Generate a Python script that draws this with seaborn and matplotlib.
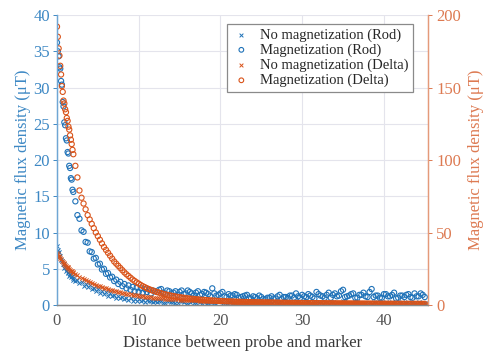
import numpy as np
import pandas as pd
import seaborn as sns
import matplotlib
import matplotlib.pyplot as plt

matplotlib.use('Agg')

# distance between probe and marker (three sampling ranges)
distance = [0.0, 0.1, 0.2, 0.3, 0.4, 0.5, 0.6, 0.7, 0.8, 0.9, 1.0,
            1.1, 1.2, 1.3, 1.4, 1.5, 1.6, 1.7, 1.8, 1.9, 2.0,
            2.25, 2.5, 2.75, 3.0, 3.25, 3.5, 3.75, 4.0, 4.25, 4.5, 4.75, 5.0,
            5.25, 5.5, 5.75, 6.0, 6.25, 6.5, 6.75, 7.0, 7.25, 7.5, 7.75, 8.0,
            8.25, 8.5, 8.75, 9.0, 9.25, 9.5, 9.75, 10.0, 10.25, 10.5, 10.75, 11.0,
            11.25, 11.5, 11.75, 12.0,
            12.5, 13.0, 13.5, 14.0, 14.5, 15.0, 15.5, 16.0, 16.5, 17.0, 17.5,
            18.0, 18.5, 19.0, 19.5, 20.0, 20.5, 21.0, 21.5, 22.0, 22.5, 23.0,
            23.5, 24.0, 24.5, 25.0, 25.5, 26.0, 26.5, 27.0, 27.5, 28.0, 28.5,
            29.0, 29.5, 30.0, 30.5, 31.0, 31.5, 32.0, 32.5, 33.0, 33.5, 34.0,
            34.5, 35.0, 35.5, 36.0, 36.5, 37.0, 37.5, 38.0, 38.5, 39.0, 39.5,
            40.0, 40.5, 41.0, 41.5, 42.0, 42.5, 43.0, 43.5, 44.0, 44.5, 45.0]

# Rod, left axis (uT)
rod_nomag = [8.2, 7.6, 7.3, 6.8, 6.7, 6.2, 6.1, 5.6, 5.6, 5.1, 5.2,
             4.7, 4.9, 4.4, 4.5, 4.0, 4.3, 3.8, 4.0, 3.5, 3.7,
             3.3, 3.5, 3.0, 3.2, 2.6, 2.9, 2.5, 2.7, 2.2, 2.4, 1.9, 2.2,
             1.7, 2.0, 1.5, 1.8, 1.3, 1.6, 1.2, 1.4, 1.0, 1.3, 0.9, 1.1,
             0.8, 1.0, 0.7, 0.9, 0.6, 0.8, 0.5, 0.8, 0.6, 0.7, 0.4, 0.7,
             0.5, 0.6, 0.4, 0.6,
             0.5, 0.3, 0.6, 0.4, 0.3, 0.5, 0.4, 0.2, 0.5, 0.3, 0.4,
             0.6, 0.3, 0.4, 0.2, 0.5, 0.3, 0.4, 0.3, 0.2, 0.4, 0.3,
             0.5, 0.2, 0.3, 0.4, 0.2, 0.3, 0.5, 0.3, 0.2, 0.4, 0.3,
             0.2, 0.4, 0.3, 0.5, 0.2, 0.3, 0.4, 0.2, 0.3, 0.4, 0.2,
             0.3, 0.5, 0.2, 0.3, 0.4, 0.2, 0.3, 0.3, 0.2, 0.4, 0.3,
             0.2, 0.3, 0.4, 0.2, 0.3, 0.2, 0.4, 0.3, 0.2, 0.3, 0.3]
rod_mag = [36.2, 35.0, 34.3, 32.8, 32.6, 30.9, 30.4, 28.0, 27.4, 25.2, 24.8,
           23.0, 22.7, 21.1, 20.9, 19.2, 18.9, 17.5, 17.3, 15.9, 15.6,
           14.3, 12.4, 11.9, 10.3, 10.1, 8.7, 8.6, 7.4, 7.3, 6.4, 6.5, 5.6,
           5.7, 4.9, 5.0, 4.3, 4.4, 3.8, 3.9, 3.3, 3.5, 2.9, 3.2, 2.6,
           2.9, 2.3, 2.7, 2.1, 2.5, 1.9, 2.4, 1.8, 2.3, 1.7, 2.2, 1.8,
           2.1, 1.6, 2.0, 1.9,
           2.1, 1.7, 2.0, 1.6, 1.9, 1.8, 1.5, 2.0, 1.6, 1.7, 1.4,
           1.8, 1.5, 2.3, 1.3, 1.6, 1.2, 1.5, 1.3, 1.4, 1.1, 1.3,
           1.0, 1.2, 0.9, 1.1, 0.8, 1.0, 0.9, 1.2, 0.8, 1.1, 1.3,
           1.0, 1.2, 1.4, 1.1, 1.3, 0.9, 1.5, 1.2, 1.4, 1.0, 1.6,
           1.3, 2.1, 1.2, 1.5, 1.0, 1.4, 1.7, 1.1, 2.2, 1.3, 1.0,
           1.5, 1.2, 1.4, 0.9, 1.3, 1.1, 1.5, 1.0, 1.2, 1.6, 1.1]

# Delta, right axis (uT)
delta_nomag = [36.0, 35.0, 34.1, 33.2, 32.3, 31.5, 30.7, 29.9, 29.2, 28.5, 27.8,
               27.1, 26.5, 25.9, 25.3, 24.7, 24.2, 23.7, 23.2, 22.7, 22.2,
               21.4, 20.5, 19.6, 18.7, 17.9, 17.1, 16.3, 15.6, 15.0, 14.4, 13.8, 13.3,
               12.8, 12.3, 11.8, 11.4, 11.0, 10.6, 10.2, 9.8, 9.45, 9.1, 8.8, 8.5,
               8.2, 7.9, 7.6, 7.35, 7.1, 6.85, 6.6, 6.4, 6.2, 6.0, 5.8, 5.6,
               5.45, 5.3, 5.15, 5.0,
               4.75, 4.5, 4.3, 4.1, 3.9, 3.75, 3.6, 3.45, 3.3, 3.2, 3.1,
               3.0, 2.9, 2.8, 2.7, 2.6, 2.55, 2.5, 2.4, 2.35, 2.3, 2.2,
               2.15, 2.1, 2.05, 2.0, 1.95, 1.9, 1.85, 1.8, 1.75, 1.7, 1.65,
               1.6, 1.55, 1.5, 1.48, 1.45, 1.42, 1.4, 1.37, 1.35, 1.32, 1.3,
               1.28, 1.25, 1.23, 1.2, 1.18, 1.15, 1.13, 1.1, 1.08, 1.05, 1.03,
               1.0, 0.98, 0.96, 0.94, 0.92, 0.9, 0.88, 0.86, 0.84, 0.82, 0.8]
delta_mag = [192, 185, 177, 172, 165, 159, 151, 147, 141, 139, 135,
             133, 129, 127, 123, 121, 117, 114, 111, 107, 104,
             96, 88, 79, 74, 70, 66, 62, 59, 56, 53, 50, 47.5,
             45, 42.5, 40, 38, 36, 34, 32, 30, 28.5, 27, 25.5, 24,
             22.5, 21.2, 20, 18.8, 17.6, 16.6, 15.6, 14.7, 13.8, 13.0, 12.3, 11.6,
             11.0, 10.4, 9.9, 9.4,
             8.5, 7.7, 7.0, 6.4, 5.9, 5.4, 5.0, 4.6, 4.3, 4.0, 3.7,
             3.5, 3.3, 3.1, 2.9, 2.75, 2.6, 2.5, 2.4, 2.3, 2.2, 2.1,
             2.0, 1.95, 1.9, 1.85, 1.8, 1.75, 1.7, 1.65, 1.6, 1.55, 1.5,
             1.45, 1.4, 1.38, 1.35, 1.33, 1.3, 1.28, 1.25, 1.23, 1.2, 1.18,
             1.15, 1.13, 1.1, 1.08, 1.06, 1.04, 1.02, 1.0, 0.98, 0.96, 0.94,
             0.92, 0.9, 0.89, 0.88, 0.87, 0.86, 0.85, 0.84, 0.83, 0.82, 0.81]

# extra readings taken between the far-range positions
distance_far = [12.25, 12.75, 13.25, 13.75, 14.25, 14.75, 15.25, 15.75, 16.25, 16.75,
                17.25, 17.75, 18.25, 18.75, 19.25, 19.75, 20.25, 20.75, 21.25, 21.75,
                22.25, 22.75, 23.25, 23.75, 24.25, 24.75, 25.25, 25.75, 26.25, 26.75,
                27.25, 27.75, 28.25, 28.75, 29.25, 29.75, 30.25, 30.75, 31.25, 31.75,
                32.25, 32.75, 33.25, 33.75, 34.25, 34.75, 35.25, 35.75, 36.25, 36.75,
                37.25, 37.75, 38.25, 38.75, 39.25, 39.75, 40.25, 40.75, 41.25, 41.75,
                42.25, 42.75, 43.25, 43.75, 44.25, 44.75]
rod_nomag_far = [0.4, 0.6, 0.3, 0.5, 0.4, 0.3, 0.5, 0.2, 0.4, 0.3,
                 0.5, 0.3, 0.2, 0.4, 0.3, 0.5, 0.2, 0.3, 0.4, 0.3,
                 0.2, 0.4, 0.3, 0.2, 0.5, 0.3, 0.4, 0.2, 0.3, 0.4,
                 0.3, 0.2, 0.4, 0.3, 0.5, 0.2, 0.3, 0.4, 0.2, 0.3,
                 0.4, 0.3, 0.2, 0.4, 0.3, 0.2, 0.5, 0.3, 0.2, 0.4,
                 0.3, 0.2, 0.3, 0.4, 0.2, 0.3, 0.4, 0.2, 0.3, 0.2,
                 0.4, 0.3, 0.2, 0.3, 0.4, 0.2]
rod_mag_far = [1.8, 2.2, 1.5, 1.9, 1.7, 1.4, 2.0, 1.6, 1.8, 1.3,
               1.9, 1.5, 1.7, 1.2, 1.6, 1.4, 1.8, 1.1, 1.3, 1.5,
               1.0, 1.2, 1.4, 0.9, 1.1, 1.3, 0.8, 1.0, 1.2, 0.9,
               1.4, 1.1, 1.0, 1.3, 1.6, 1.0, 1.2, 1.5, 1.1, 1.8,
               1.3, 1.0, 1.7, 1.4, 1.2, 1.9, 1.1, 1.3, 1.6, 1.0,
               1.4, 1.2, 1.8, 1.1, 1.3, 1.0, 1.5, 1.2, 1.7, 1.0,
               1.3, 1.4, 1.1, 1.6, 1.2, 1.4]
delta_nomag_far = [4.88, 4.62, 4.4, 4.2, 4.0, 3.82, 3.68, 3.52, 3.38, 3.25,
                   3.15, 3.05, 2.95, 2.85, 2.75, 2.65, 2.58, 2.52, 2.45, 2.38,
                   2.32, 2.25, 2.18, 2.12, 2.08, 2.02, 1.98, 1.92, 1.88, 1.82,
                   1.78, 1.72, 1.68, 1.62, 1.58, 1.52, 1.49, 1.46, 1.44, 1.41,
                   1.38, 1.36, 1.34, 1.31, 1.29, 1.26, 1.24, 1.22, 1.19, 1.16,
                   1.14, 1.12, 1.09, 1.06, 1.04, 1.02, 0.99, 0.97, 0.95, 0.93,
                   0.91, 0.89, 0.87, 0.85, 0.83, 0.81]
delta_mag_far = [8.9, 8.1, 7.3, 6.7, 6.1, 5.6, 5.2, 4.8, 4.45, 4.15,
                 3.85, 3.6, 3.4, 3.2, 3.0, 2.82, 2.68, 2.55, 2.45, 2.35,
                 2.25, 2.15, 2.05, 1.98, 1.92, 1.88, 1.82, 1.78, 1.72, 1.68,
                 1.62, 1.58, 1.52, 1.48, 1.42, 1.39, 1.36, 1.34, 1.31, 1.29,
                 1.26, 1.24, 1.21, 1.19, 1.16, 1.14, 1.12, 1.09, 1.07, 1.05,
                 1.03, 1.01, 0.99, 0.97, 0.95, 0.93, 0.91, 0.895, 0.885, 0.875,
                 0.865, 0.855, 0.845, 0.835, 0.825, 0.815]

BLUE = '#1f72b8'
ORANGE = '#d95319'

df = pd.concat([
    pd.DataFrame({'distance': distance, 'rod_nomag': rod_nomag, 'rod_mag': rod_mag,
                  'delta_nomag': delta_nomag, 'delta_mag': delta_mag}),
    pd.DataFrame({'distance': distance_far, 'rod_nomag': rod_nomag_far, 'rod_mag': rod_mag_far,
                  'delta_nomag': delta_nomag_far, 'delta_mag': delta_mag_far}),
], ignore_index=True).sort_values('distance')

sns.set_theme(style='whitegrid')
plt.rcParams['font.family'] = ['Liberation Serif', 'DejaVu Serif']

fig = plt.figure(figsize=(4.9, 3.58), dpi=100)
ax = fig.add_axes([0.1163, 0.148, 0.7572, 0.81])
ax2 = ax.twinx()

sns.scatterplot(data=df, x='distance', y='rod_nomag', ax=ax, marker='x', s=9,
                color=BLUE, linewidth=0.7, legend=False)
sns.scatterplot(data=df, x='distance', y='rod_mag', ax=ax, marker='o', s=14,
                facecolor='none', edgecolor=BLUE, linewidth=0.8, legend=False)
sns.scatterplot(data=df, x='distance', y='delta_nomag', ax=ax2, marker='x', s=9,
                color=ORANGE, linewidth=0.7, legend=False)
sns.scatterplot(data=df, x='distance', y='delta_mag', ax=ax2, marker='o', s=14,
                facecolor='none', edgecolor=ORANGE, linewidth=0.8, legend=False)

ax.set_xlim(0, 45.4)
ax.set_ylim(0, 40)
ax2.set_ylim(0, 200)
ax.set_xticks([0, 10, 20, 30, 40])
ax.set_yticks(np.arange(0, 41, 5))
ax2.set_yticks([0, 50, 100, 150, 200])
ax2.grid(False)
ax.grid(True, color='#e4e4ec', linewidth=0.8)

ax.set_xlabel('Distance between probe and marker', fontsize=12, color='#3a3a3a', labelpad=4)
ax.set_ylabel('Magnetic flux density (μT)', fontsize=12, color='#3d88c4', labelpad=2)
ax2.set_ylabel('Magnetic flux density (μT)', fontsize=12, color='#dd7a52', labelpad=5)

ax.tick_params(axis='x', colors='#555555', labelsize=12, length=3, width=0.7, pad=6, direction='in')
ax.tick_params(axis='y', colors='#3d88c4', labelsize=12, length=3, width=0.7, pad=2, direction='out')
ax2.tick_params(axis='y', colors='#dd7a52', labelsize=12, length=3, width=0.7, pad=3, direction='out')

for a in (ax, ax2):
    a.spines['top'].set_visible(False)
    a.spines['bottom'].set_color('#888888')
    a.spines['left'].set_color('#6fa6d4')
    a.spines['right'].set_color('#e49a7a')
    for s in a.spines.values():
        s.set_linewidth(0.9)
ax.set_facecolor('white')

handles = ax.collections + ax2.collections
labels = ['No magnetization (Rod)', 'Magnetization (Rod)',
          'No magnetization (Delta)', 'Magnetization (Delta)']
leg = ax2.legend(handles, labels, loc='upper right', bbox_to_anchor=(0.96, 0.97),
                 borderaxespad=0, fontsize=10.5, frameon=True, fancybox=False,
                 labelspacing=0.12, borderpad=0.3, handletextpad=0.6, handlelength=1.4,
                 markerscale=0.9)
leg.get_frame().set_edgecolor('#8a8a8a')
leg.get_frame().set_linewidth(0.9)
leg.get_frame().set_alpha(1)

plt.savefig('out.png', dpi=100)
